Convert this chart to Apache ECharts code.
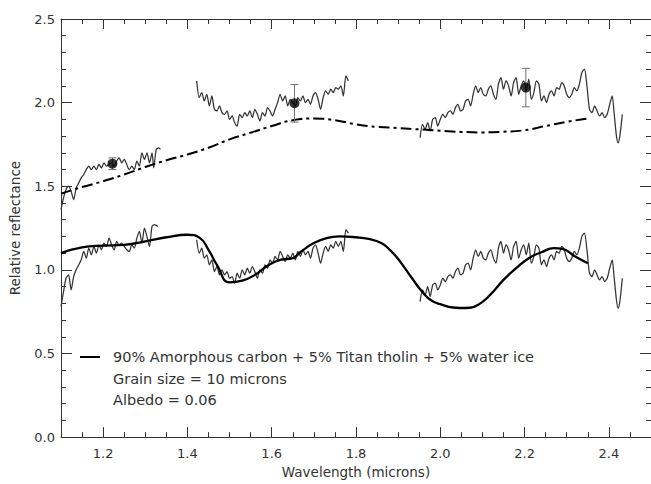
<!DOCTYPE html>
<html>
<head>
<meta charset="utf-8">
<script src="https://cdn.jsdelivr.net/npm/echarts@6/dist/echarts.min.js"></script>
<style>
  html, body { margin: 0; padding: 0; background: #ffffff; }
  #chart { width: 651px; height: 484px; }
</style>
</head>
<body>
<div id="chart"></div>
<script>
// Tick positions (microns / relative reflectance)
const xMajorTicks = [1.2, 1.4, 1.6, 1.8, 2.0, 2.2, 2.4];
const xMinorTicks = [1.1, 1.15, 1.2, 1.25, 1.3, 1.35, 1.4, 1.45, 1.5, 1.55, 1.6, 1.65, 1.7, 1.75,
                     1.8, 1.85, 1.9, 1.95, 2.0, 2.05, 2.1, 2.15, 2.2, 2.25, 2.3, 2.35, 2.4, 2.45, 2.5];

// Observed spectrum, offset copy (upper), three spectral windows: [wavelength, reflectance]
const obsUpperA = [
  [1.100,1.36],[1.106,1.43],[1.112,1.48],[1.118,1.50],[1.124,1.47],[1.130,1.42],[1.136,1.49],
  [1.142,1.52],[1.148,1.55],[1.154,1.57],[1.160,1.60],[1.166,1.62],[1.172,1.60],[1.178,1.62],
  [1.184,1.60],[1.190,1.63],[1.196,1.61],[1.202,1.64],[1.208,1.62],[1.214,1.63],[1.220,1.64],
  [1.226,1.62],[1.232,1.65],[1.238,1.67],[1.244,1.64],[1.250,1.66],[1.256,1.63],[1.262,1.60],
  [1.268,1.62],[1.274,1.60],[1.280,1.65],[1.286,1.62],[1.292,1.70],[1.298,1.66],[1.304,1.70],
  [1.310,1.64],[1.316,1.70],[1.320,1.61],[1.326,1.72],[1.332,1.73],[1.336,1.72]
];
const obsUpperB = [
  [1.422,2.13],[1.428,2.03],[1.434,2.06],[1.440,2.01],[1.446,2.05],[1.452,1.98],[1.458,2.04],
  [1.464,1.96],[1.470,1.95],[1.476,1.98],[1.482,1.94],[1.488,1.93],[1.494,1.95],[1.500,1.90],
  [1.506,1.92],[1.512,1.88],[1.518,1.86],[1.524,1.93],[1.530,1.91],[1.536,1.94],[1.542,1.92],
  [1.548,1.95],[1.554,1.91],[1.560,1.96],[1.566,1.93],[1.572,1.89],[1.578,1.94],[1.584,1.92],
  [1.590,1.97],[1.596,1.95],[1.602,1.92],[1.608,1.96],[1.614,2.00],[1.620,2.05],[1.626,2.01],
  [1.632,2.04],[1.638,1.98],[1.644,2.02],[1.650,2.00],[1.656,1.98],[1.662,2.03],[1.668,2.01],
  [1.674,2.04],[1.680,2.00],[1.686,2.02],[1.692,1.99],[1.698,2.04],[1.704,2.06],[1.710,2.02],
  [1.716,1.96],[1.722,2.03],[1.728,2.07],[1.734,2.05],[1.740,2.08],[1.746,2.06],[1.752,2.09],
  [1.758,2.08],[1.764,2.10],[1.770,2.04],[1.776,2.16],[1.782,2.13]
];
const obsUpperC = [
  [1.952,1.79],[1.958,1.87],[1.964,1.84],[1.970,1.88],[1.976,1.83],[1.982,1.90],[1.988,1.91],
  [1.994,1.86],[2.000,1.90],[2.006,1.93],[2.012,1.91],[2.018,1.94],[2.024,1.95],[2.030,1.93],
  [2.036,1.97],[2.042,1.99],[2.048,1.95],[2.054,1.96],[2.060,2.01],[2.066,2.02],[2.072,1.98],
  [2.078,2.05],[2.084,2.10],[2.090,2.06],[2.096,2.09],[2.102,2.05],[2.108,2.04],[2.114,2.08],
  [2.120,2.10],[2.126,2.05],[2.132,2.02],[2.138,2.11],[2.144,2.15],[2.150,2.08],[2.156,2.13],
  [2.162,2.10],[2.168,2.04],[2.174,2.12],[2.180,2.15],[2.186,2.05],[2.192,2.10],[2.198,2.13],
  [2.204,2.07],[2.210,2.14],[2.216,2.02],[2.222,2.06],[2.228,2.13],[2.234,2.11],[2.240,2.01],
  [2.246,2.04],[2.252,2.00],[2.258,2.05],[2.264,2.07],[2.270,2.04],[2.276,2.09],[2.282,2.08],
  [2.288,2.12],[2.294,2.10],[2.300,2.05],[2.306,2.03],[2.312,2.05],[2.318,2.09],[2.324,2.07],
  [2.330,2.11],[2.336,2.18],[2.342,2.20],[2.348,2.10],[2.354,1.96],[2.360,1.94],[2.366,1.98],
  [2.372,1.95],[2.378,1.92],[2.384,1.94],[2.390,1.91],[2.396,1.93],[2.402,1.99],[2.408,2.04],
  [2.412,1.95],[2.418,1.80],[2.422,1.76],[2.426,1.80],[2.432,1.93]
];

// Observed spectrum, lower copy compared with the mixture model
const obsLowerA = [
  [1.100,0.78],[1.106,0.87],[1.112,0.95],[1.118,0.97],[1.124,0.88],[1.130,0.96],[1.136,1.00],
  [1.142,1.03],[1.148,1.06],[1.154,1.11],[1.160,1.07],[1.166,1.13],[1.172,1.09],[1.178,1.14],
  [1.184,1.10],[1.190,1.15],[1.196,1.12],[1.202,1.16],[1.208,1.14],[1.214,1.19],[1.220,1.15],
  [1.226,1.12],[1.232,1.17],[1.238,1.15],[1.244,1.16],[1.250,1.14],[1.256,1.12],[1.262,1.11],
  [1.268,1.15],[1.274,1.13],[1.280,1.19],[1.286,1.23],[1.292,1.16],[1.298,1.25],[1.304,1.20],
  [1.310,1.14],[1.316,1.26],[1.322,1.27],[1.330,1.26]
];
const obsLowerB = [
  [1.422,1.18],[1.428,1.10],[1.434,1.13],[1.440,1.07],[1.446,1.09],[1.452,1.03],[1.458,1.06],
  [1.464,0.99],[1.470,1.02],[1.476,0.97],[1.482,1.00],[1.488,0.97],[1.494,0.99],[1.500,0.95],
  [1.506,0.96],[1.512,0.92],[1.518,0.98],[1.524,0.95],[1.530,1.00],[1.536,0.97],[1.542,1.01],
  [1.548,0.98],[1.554,1.02],[1.560,0.99],[1.566,0.95],[1.572,1.00],[1.578,0.98],[1.584,1.03],
  [1.590,1.01],[1.596,1.06],[1.602,1.04],[1.608,1.08],[1.614,1.06],[1.620,1.11],[1.626,1.08],
  [1.632,1.05],[1.638,1.09],[1.644,1.07],[1.650,1.10],[1.656,1.06],[1.662,1.11],[1.668,1.08],
  [1.674,1.12],[1.680,1.09],[1.686,1.11],[1.692,1.07],[1.698,1.13],[1.704,1.15],[1.710,1.10],
  [1.716,1.04],[1.722,1.10],[1.728,1.14],[1.734,1.11],[1.740,1.15],[1.746,1.13],[1.752,1.17],
  [1.758,1.14],[1.764,1.17],[1.770,1.11],[1.776,1.24],[1.782,1.22]
];
const obsLowerC = [
  [1.952,0.81],[1.958,0.88],[1.964,0.85],[1.970,0.90],[1.976,0.84],[1.982,0.91],[1.988,0.92],
  [1.994,0.88],[2.000,0.91],[2.006,0.95],[2.012,0.93],[2.018,0.96],[2.024,0.97],[2.030,0.95],
  [2.036,0.99],[2.042,1.01],[2.048,0.97],[2.054,0.98],[2.060,1.03],[2.066,1.04],[2.072,1.00],
  [2.078,1.07],[2.084,1.12],[2.090,1.08],[2.096,1.11],[2.102,1.07],[2.108,1.06],[2.114,1.10],
  [2.120,1.12],[2.126,1.07],[2.132,1.04],[2.138,1.13],[2.144,1.17],[2.150,1.10],[2.156,1.15],
  [2.162,1.12],[2.168,1.06],[2.174,1.14],[2.180,1.17],[2.186,1.07],[2.192,1.12],[2.198,1.15],
  [2.204,1.09],[2.210,1.16],[2.216,1.04],[2.222,1.08],[2.228,1.15],[2.234,1.13],[2.240,1.03],
  [2.246,1.06],[2.252,1.02],[2.258,1.07],[2.264,1.09],[2.270,1.06],[2.276,1.11],[2.282,1.10],
  [2.288,1.14],[2.294,1.12],[2.300,1.07],[2.306,1.05],[2.312,1.07],[2.318,1.11],[2.324,1.09],
  [2.330,1.13],[2.336,1.20],[2.342,1.22],[2.348,1.12],[2.354,0.98],[2.360,0.96],[2.366,1.00],
  [2.372,0.97],[2.378,0.94],[2.384,0.96],[2.390,0.93],[2.396,0.95],[2.402,1.01],[2.408,1.06],
  [2.412,0.97],[2.418,0.82],[2.422,0.77],[2.426,0.81],[2.432,0.95]
];

// Smooth continuum (dash-dot) through the upper copy
const continuumModel = [
  [1.10,1.455],[1.15,1.495],[1.20,1.53],[1.25,1.57],[1.30,1.615],[1.35,1.655],[1.40,1.69],
  [1.45,1.73],[1.50,1.78],[1.55,1.82],[1.60,1.86],[1.65,1.895],[1.70,1.905],[1.75,1.895],
  [1.80,1.87],[1.85,1.855],[1.90,1.848],[1.95,1.84],[2.00,1.832],[2.05,1.825],[2.10,1.822],
  [2.15,1.826],[2.20,1.835],[2.25,1.86],[2.30,1.885],[2.35,1.905]
];

// Intimate-mixture model spectrum
const mixtureModel = [
  [1.10,1.10],[1.15,1.135],[1.20,1.145],[1.25,1.15],[1.30,1.17],[1.35,1.195],[1.40,1.21],
  [1.43,1.19],[1.45,1.12],[1.47,1.03],[1.50,0.925],[1.53,0.935],[1.56,0.97],[1.59,1.025],
  [1.62,1.06],[1.65,1.07],[1.67,1.11],[1.70,1.16],[1.73,1.19],[1.76,1.20],[1.80,1.195],
  [1.83,1.185],[1.86,1.16],[1.88,1.12],[1.90,1.065],[1.93,0.96],[1.96,0.86],[1.98,0.815],
  [2.00,0.795],[2.03,0.775],[2.06,0.772],[2.09,0.792],[2.12,0.855],[2.15,0.94],[2.18,1.01],
  [2.21,1.07],[2.24,1.105],[2.27,1.13],[2.29,1.125],[2.32,1.08],[2.35,1.04]
];

// Photometric points with uncertainties
const photoWavelengths = [1.222, 1.654, 2.203];
const photoReflectance = [1.635, 1.996, 2.090];
const photoErrors      = [0.035, 0.112, 0.115];

const modelName = '90% Amorphous carbon + 5% Titan tholin + 5% water ice';
const noteLines = ['Grain size = 10 microns', 'Albedo = 0.06'];

const FONT = 'DejaVu Sans';
const INK = '#333333';

const chart = echarts.init(document.getElementById('chart'), null, { renderer: 'svg' });

function xAxisCfg(position, ticks, tickLen, withLabels, withLine, withName) {
  return {
    type: 'value', min: 1.1, max: 2.5, position: position,
    name: withName ? 'Wavelength (microns)' : '',
    nameLocation: 'middle', nameGap: 27,
    nameTextStyle: { fontFamily: FONT, fontSize: 13.5, color: INK },
    axisLine: { show: withLine, onZero: false, lineStyle: { color: INK, width: 1 } },
    axisTick: { show: true, inside: true, length: tickLen, customValues: ticks,
                lineStyle: { color: INK, width: 1 } },
    axisLabel: { show: withLabels, customValues: xMajorTicks, margin: 10,
                 formatter: v => v.toFixed(1),
                 fontFamily: FONT, fontSize: 13, color: INK },
    splitLine: { show: false }
  };
}

function yAxisCfg(position, withLabels, withName) {
  return {
    type: 'value', min: 0, max: 2.5, interval: 0.5, position: position,
    name: withName ? 'Relative reflectance' : '',
    nameLocation: 'middle', nameGap: 39,
    nameTextStyle: { fontFamily: FONT, fontSize: 13.5, color: INK },
    axisLine: { show: true, onZero: false, lineStyle: { color: INK, width: 1 } },
    axisTick: { show: true, inside: true, length: 11, lineStyle: { color: INK, width: 1 } },
    minorTick: { show: true, splitNumber: 5, length: 5, lineStyle: { color: INK, width: 1 } },
    axisLabel: { show: withLabels, margin: 6, formatter: v => v.toFixed(1),
                 fontFamily: FONT, fontSize: 13, color: INK },
    splitLine: { show: false }, minorSplitLine: { show: false }
  };
}

function spectrum(data) {
  return {
    type: 'line', data: data, xAxisIndex: 0, yAxisIndex: 0,
    showSymbol: false, smooth: 0.25, silent: true,
    lineStyle: { color: '#333333', width: 1.25 }, z: 3
  };
}

const option = {
  backgroundColor: '#ffffff',
  animation: false,
  grid: { left: 58, right: -3, top: 19, bottom: 42 },
  xAxis: [
    xAxisCfg('bottom', xMajorTicks, 10, true, true, true),
    xAxisCfg('bottom', xMinorTicks, 5, false, false, false),
    xAxisCfg('top', xMajorTicks, 10, false, true, false),
    xAxisCfg('top', xMinorTicks, 5, false, false, false)
  ],
  yAxis: [
    yAxisCfg('left', true, true),
    yAxisCfg('right', false, false)
  ],
  legend: {
    data: [{ name: modelName, icon: 'rect' }],
    left: 80, top: 348, padding: 0,
    itemWidth: 20, itemHeight: 2,
    textStyle: { fontFamily: FONT, fontSize: 14.5, color: INK, padding: [0, 0, 0, 8], lineHeight: 18 }
  },
  graphic: noteLines.map((t, i) => ({
    type: 'text', x: 113, y: 379 + i * 21,
    style: { text: t, fill: INK, font: '14.5px ' + FONT, verticalAlign: 'middle' }
  })),
  series: [
    spectrum(obsUpperA), spectrum(obsUpperB), spectrum(obsUpperC),
    spectrum(obsLowerA), spectrum(obsLowerB), spectrum(obsLowerC),
    {
      type: 'line', name: 'continuum', data: continuumModel,
      showSymbol: false, smooth: true, silent: true, z: 4,
      lineStyle: { color: '#000000', width: 2, type: [11, 4, 3, 4] }
    },
    {
      type: 'line', name: modelName, data: mixtureModel, color: '#000000',
      showSymbol: false, smooth: true, silent: true, z: 4,
      itemStyle: { color: '#000000' },
      lineStyle: { color: '#000000', width: 2.3 }
    },
    {
      type: 'custom', name: 'errors', silent: true, z: 5,
      data: photoWavelengths.map((w, i) => [w, photoReflectance[i], photoErrors[i]]),
      renderItem: function (params, api) {
        const x = api.value(0), y = api.value(1), e = api.value(2);
        const hi = api.coord([x, y + e]);
        const lo = api.coord([x, y - e]);
        const cap = 4;
        const st = { stroke: '#707070', lineWidth: 1 };
        return {
          type: 'group',
          children: [
            { type: 'line', shape: { x1: hi[0], y1: hi[1], x2: lo[0], y2: lo[1] }, style: st },
            { type: 'line', shape: { x1: hi[0] - cap, y1: hi[1], x2: hi[0] + cap, y2: hi[1] }, style: st },
            { type: 'line', shape: { x1: lo[0] - cap, y1: lo[1], x2: lo[0] + cap, y2: lo[1] }, style: st }
          ]
        };
      }
    },
    {
      type: 'scatter', name: 'photometry', silent: true, z: 6,
      data: photoWavelengths.map((w, i) => [w, photoReflectance[i]]),
      symbol: 'circle', symbolSize: 10,
      itemStyle: { color: '#000000' }
    }
  ]
};

chart.setOption(option);
</script>
</body>
</html>
